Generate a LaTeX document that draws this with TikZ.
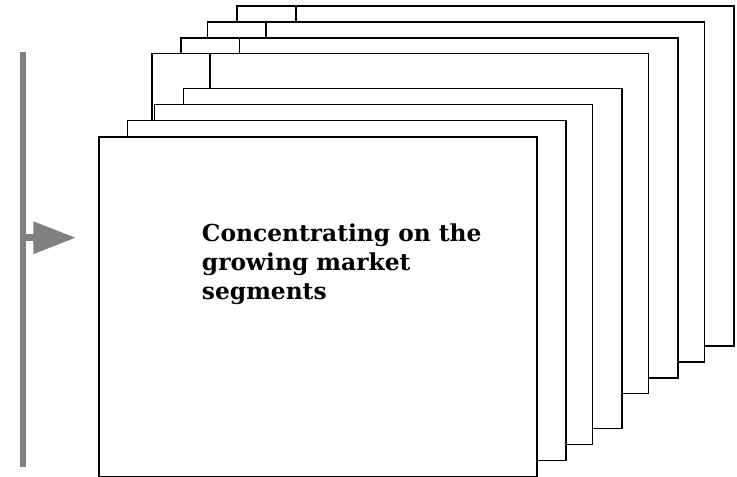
\documentclass[tikz,border=0pt]{standalone}
\usepackage{fontspec}
\setmainfont{DejaVu Serif}
\usetikzlibrary{positioning,arrows.meta}
\tikzset{
  pagebox/.style={draw=black, fill=white, line width=1.2pt},
  guidebar/.style={draw=gray, line width=4.5pt},
  guidearrow/.style={-{Triangle[length=32pt, width=23pt]}, draw=gray, fill=gray, line width=5.25pt},
  pagetext/.style={font=\bfseries\fontsize{17.5}{21.75}\selectfont, align=left, inner sep=0pt, anchor=north west}
}

\begin{document}
\begin{tikzpicture}[x=0.75pt, y=-0.75pt]
  \useasboundingbox (0,0) rectangle (737,476);
  % stacked pages at the back, each with its shifted twin
  \foreach \l/\t/\r in {236.7/5.7/733.7, 295.7/5.7/733.7,
                        207.3/21.7/704.3, 266/21.7/704.3,
                        180.7/37.7/677.7, 239.3/37.7/677.7,
                        151.7/53.3/648.3, 210/53.3/648.3,
                        183.3/88.3/621.7, 154.3/104.3/592.3,
                        127.3/120.3/565.7}
    \draw[pagebox] (\l,\t) rectangle (\r,\t+340);
  % front page and its caption
  \node[pagebox, anchor=north west, inner sep=0pt, minimum width=328.5pt, minimum height=255pt] (front) at (98,136.3) {};
  \node[pagetext] (caption) at (201.7,223.5) {Concentrating on the\\growing market\\segments};
  % grey bar with the arrow pointing at the pages
  \coordinate (bartop) at (23.3,51.7);
  \coordinate (barbottom) at (23.3,466.7);
  \coordinate (armstart) at (23.3,237.7);
  \coordinate (armtip) at (76,237.7);
  \draw[guidebar] (bartop) -- (barbottom);
  \draw[guidearrow] (armstart) -- (armtip);
\end{tikzpicture}
\end{document}
